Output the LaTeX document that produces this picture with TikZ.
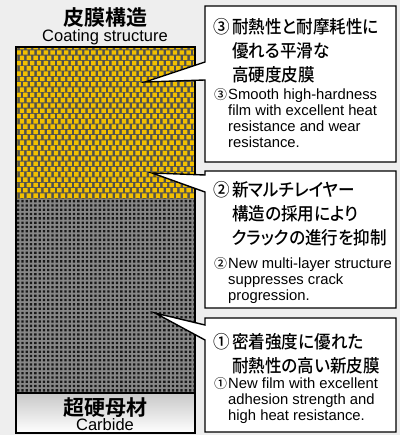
\documentclass[tikz,border=0pt]{standalone}
\usepackage{fontspec}
\setmainfont{Liberation Sans}
\newfontfamily\jpfont{Noto Sans CJK JP}[UprightFont=* Medium, BoldFont=* Bold, RawFeature=+palt]
\newfontfamily\jpnarrow{Noto Sans CJK JP}[UprightFont=* Medium, RawFeature=+palt, FakeStretch=0.93]
\usetikzlibrary{positioning}

\definecolor{bgcol}{RGB}{238,238,238}
\definecolor{coatbg}{RGB}{80,80,80}
\definecolor{coatdot}{RGB}{242,192,0}
\definecolor{basebg}{RGB}{135,135,135}
\definecolor{basedot}{RGB}{25,25,25}
\definecolor{gradtop}{RGB}{200,200,200}

\newcommand{\itemjp}[2]{\begin{tabular}[t]{@{}l@{}l@{}}\makebox[20pt][c]{#1}&#2\end{tabular}}
\newcommand{\itemen}[2]{\begin{tabular}[t]{@{}l@{}l@{}}\makebox[14pt][l]{\jpfont\fontsize{13}{13}\selectfont#1}&#2\end{tabular}}

\begin{document}
\begin{tikzpicture}[x=1pt,y=-1pt,
    callout/.style={fill=white,draw=black,line width=1.4pt},
    layer/.style={draw=black,line width=1.4pt},
    jp/.style={anchor=base west,inner sep=0pt,font=\jpnarrow\fontsize{17.8}{24}\selectfont},
    en/.style={anchor=base west,inner sep=0pt,font=\fontsize{14.8}{16}\selectfont},
    head/.style={anchor=base,inner sep=0pt,font=\jpfont\bfseries\fontsize{21}{21}\selectfont},
    sub/.style={anchor=base,inner sep=0pt,font=\fontsize{16.5}{16.5}\selectfont}]
  \useasboundingbox (0,0) rectangle (400,435);
  \fill[bgcol] (0,0) rectangle (400,435);

  % coating layer
  \begin{scope}
    \clip (16,47) rectangle (195,199);
    \fill[coatbg] (16,47) rectangle (195,199);
    \fill[coatdot] \foreach \r in {0,...,29} {\foreach \c in {0,...,27}
      {({13+\c*6.8+mod(\r,2)*3.4},{45+\r*5.3}) rectangle ++(4.4,4.4)}};
  \end{scope}

  % carbide base
  \begin{scope}
    \clip (16,199) rectangle (195,393);
    \fill[basebg] (16,199) rectangle (195,393);
    \fill[basedot] \foreach \r in {0,...,45} {\foreach \c in {0,...,42}
      {({17+\c*4.3},{200+\r*4.3}) rectangle ++(2.3,2.3)}};
  \end{scope}
  \shade[top color=gradtop,bottom color=white] (16,393) rectangle (195,433);
  \draw[layer] (16,393) -- (195,393);
  \draw[layer] (16,47) rectangle (195,433);

  % titles
  \node[head] (coat)    at (105,25.5) {皮膜構造};
  \node[sub]  (coaten)  at (105,41.5) {Coating structure};
  \node[head] (base)    at (105,415.5) {超硬母材};
  \node[sub]  (baseen)  at (105,430.5) {Carbide};

  % callouts
  \coordinate (tip3) at (145,82);
  \coordinate (tip2) at (152,173);
  \coordinate (tip1) at (155,313);
  \draw[callout] (205,6) -- (396,6) -- (396,162) -- (205,162) -- (205,80)
    -- (tip3) -- (205,62) -- cycle;
  \draw[callout] (205,171) -- (396,171) -- (396,308) -- (205,308) -- (205,192)
    -- (tip2) -- (205,175) -- cycle;
  \draw[callout] (205,318) -- (396,318) -- (396,432) -- (205,432) -- (205,340)
    -- (tip1) -- (205,325) -- cycle;

  \node[jp] (jp3) at (212,33.5) {\itemjp{③}{耐熱性と耐摩耗性に\\&優れる平滑な\\&高硬度皮膜}};
  \node[en] (en3) at (214,100) {\itemen{③}{Smooth high-hardness\\&film with excellent heat\\&resistance and wear\\&resistance.}};
  \node[jp] (jp2) at (212,196.5) {\itemjp{②}{新マルチレイヤー\\&構造の採用により\\&クラックの進行を抑制}};
  \node[en] (en2) at (214,268) {\itemen{②}{New multi-layer structure\\&suppresses crack\\&progression.}};
  \node[jp] (jp1) at (212,348) {\itemjp{①}{密着強度に優れた\\&耐熱性の高い新皮膜}};
  \node[en] (en1) at (214,388) {\itemen{①}{New film with excellent\\&adhesion strength and\\&high heat resistance.}};
\end{tikzpicture}
\end{document}
